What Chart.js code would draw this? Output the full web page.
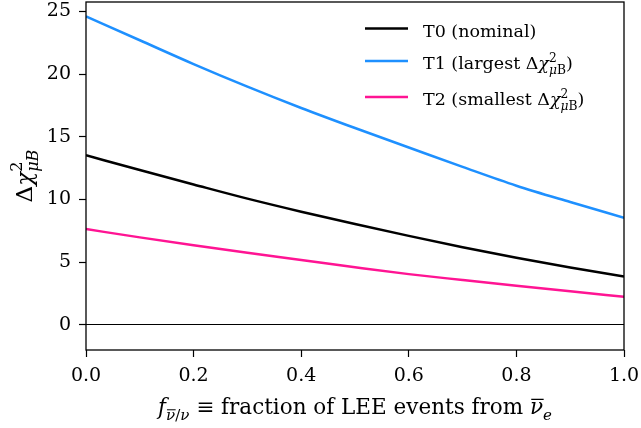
<!DOCTYPE html>
<html>
<head>
<meta charset="utf-8">
<script src="https://cdn.jsdelivr.net/npm/chart.js@4.4.1/dist/chart.umd.min.js"></script>
<style>
  html, body { margin: 0; padding: 0; background: #fff; }
  canvas { display: block; }
</style>
</head>
<body>
<canvas id="chi2Chart" width="641" height="428"></canvas>
<script>
// fraction of LEE events coming from anti-nu_e
const fValues = [0, 0.1, 0.2, 0.3, 0.4, 0.5, 0.6, 0.7, 0.8, 0.9, 1.0];

// delta chi^2 for each template
const t0Values = [13.53, 12.35, 11.20, 10.07, 9.03, 8.05, 7.10, 6.20, 5.35, 4.58, 3.85];
const t1Values = [24.60, 22.70, 20.80, 19.00, 17.30, 15.70, 14.15, 12.60, 11.10, 9.80, 8.55];
const t2Values = [7.64, 6.98, 6.35, 5.75, 5.18, 4.60, 4.05, 3.58, 3.12, 2.68, 2.25];

const seriesNames = ['T0 (nominal)', 'T1 (largest \u0394\u03c7\u00b2_\u03bcB)', 'T2 (smallest \u0394\u03c7\u00b2_\u03bcB)'];
const xTicks = [0, 0.2, 0.4, 0.6, 0.8, 1.0];
const yTicks = [0, 5, 10, 15, 20, 25];

const FONT = '"DejaVu Serif", "Liberation Serif", serif';

// little math-text renderer: parts are {t, i (italic), bar} or {sup, sub}
function richText(ctx, parts, x, y, size, draw) {
    let cx = x;
    for (const p of parts) {
        if (p.sup || p.sub) {
            const s = size * 0.7;
            const w1 = p.sup ? richText(ctx, p.sup, cx, y - size * 0.42, s, draw) : 0;
            const w2 = p.sub ? richText(ctx, p.sub, cx, y + size * 0.28, s, draw) : 0;
            cx += Math.max(w1, w2);
        } else {
            ctx.font = (p.i ? 'italic ' : '') + size + 'px ' + FONT;
            const w = ctx.measureText(p.t).width;
            if (draw) {
                ctx.fillText(p.t, cx, y);
                if (p.bar) {
                    ctx.save();
                    ctx.lineWidth = Math.max(1, size * 0.06);
                    ctx.beginPath();
                    ctx.moveTo(cx + w * 0.1, y - size * 0.68);
                    ctx.lineTo(cx + w * 1.05, y - size * 0.68);
                    ctx.stroke();
                    ctx.restore();
                }
            }
            cx += w;
        }
    }
    return cx - x;
}

const dchi = (bItalic) => [
    { t: '\u0394' }, { t: '\u03c7', i: 1 },
    { sup: [{ t: '2' }], sub: [{ t: '\u03bc', i: 1 }, { t: 'B', i: bItalic }] }
];

const legendParts = [
    [{ t: 'T0 (nominal)' }],
    [{ t: 'T1 (largest ' }, ...dchi(0), { t: ')' }],
    [{ t: 'T2 (smallest ' }, ...dchi(0), { t: ')' }]
];

const xTitleParts = [
    { t: 'f', i: 1 },
    { sub: [{ t: '\u03bd', i: 1, bar: 1 }, { t: '/' }, { t: '\u03bd', i: 1 }] },
    { t: ' \u2261 fraction of LEE events from ' },
    { t: '\u03bd', i: 1, bar: 1 },
    { sub: [{ t: 'e', i: 1 }] }
];

const yTitleParts = dchi(1);

// frame, axis titles and legend
const decorations = {
    id: 'decorations',
    afterDraw(chart) {
        const ctx = chart.ctx;
        const a = chart.chartArea;
        ctx.save();
        ctx.strokeStyle = '#000';
        ctx.fillStyle = '#000';
        ctx.lineWidth = 1.3;
        ctx.strokeRect(a.left, a.top, a.right - a.left, a.bottom - a.top);

        ctx.textBaseline = 'alphabetic';
        ctx.textAlign = 'left';

        // x title
        const xw = richText(ctx, xTitleParts, 0, 0, 21.5, false);
        richText(ctx, xTitleParts, (a.left + a.right) / 2 - xw / 2, 414, 21.5, true);

        // y title
        const yw = richText(ctx, yTitleParts, 0, 0, 23, false);
        ctx.save();
        ctx.translate(32, (a.top + a.bottom) / 2);
        ctx.rotate(-Math.PI / 2);
        richText(ctx, yTitleParts, -yw / 2, 0, 23, true);
        ctx.restore();

        // legend
        const rows = [26.5, 59, 95];
        chart.data.datasets.forEach((ds, i) => {
            const y = a.top + rows[i];
            ctx.strokeStyle = ds.borderColor;
            ctx.lineWidth = ds.borderWidth;
            ctx.beginPath();
            ctx.moveTo(a.right - 259, y);
            ctx.lineTo(a.right - 216, y);
            ctx.stroke();
            ctx.strokeStyle = '#000';
            richText(ctx, legendParts[i], a.right - 201, y + 8.4, 17.5, true);
        });
        ctx.restore();
    }
};

const toPoints = (ys) => fValues.map((f, i) => ({ x: f, y: ys[i] }));

new Chart(document.getElementById('chi2Chart').getContext('2d'), {
    type: 'line',
    data: {
        datasets: [
            { label: seriesNames[0], data: toPoints(t0Values), borderColor: '#000000' },
            { label: seriesNames[1], data: toPoints(t1Values), borderColor: '#1e90ff' },
            { label: seriesNames[2], data: toPoints(t2Values), borderColor: '#ff1493' }
        ].map(ds => Object.assign(ds, {
            borderWidth: 2.5,
            pointRadius: 0,
            fill: false,
            cubicInterpolationMode: 'monotone'
        }))
    },
    options: {
        responsive: false,
        animation: false,
        layout: { padding: { top: 2, right: 17, left: 0, bottom: 0 } },
        plugins: {
            legend: { display: false },
            tooltip: { enabled: false }
        },
        scales: {
            x: {
                type: 'linear',
                min: 0,
                max: 1,
                afterBuildTicks: (scale) => { scale.ticks = xTicks.map(v => ({ value: v })); },
                afterFit: (scale) => { scale.height = 78; scale.paddingLeft = 0; scale.paddingRight = 0; },
                border: { display: false },
                grid: { drawOnChartArea: false, tickLength: 7, tickWidth: 1.2, tickColor: '#000' },
                ticks: {
                    color: '#000',
                    padding: 8,
                    maxRotation: 0,
                    font: { family: FONT, size: 19 },
                    callback: (v) => v.toFixed(1)
                }
            },
            y: {
                min: -2,
                max: 25.75,
                afterBuildTicks: (scale) => { scale.ticks = yTicks.map(v => ({ value: v })); },
                afterFit: (scale) => { scale.width = 86; scale.paddingTop = 0; scale.paddingBottom = 0; },
                border: { display: false },
                grid: {
                    color: (c) => (c.tick && c.tick.value === 0 ? '#000' : 'rgba(0,0,0,0)'),
                    lineWidth: 1,
                    tickLength: 7,
                    tickWidth: 1.2,
                    tickColor: '#000'
                },
                ticks: {
                    color: '#000',
                    padding: 8,
                    font: { family: FONT, size: 19 },
                    callback: (v) => String(v)
                }
            }
        }
    },
    plugins: [decorations]
});
</script>
</body>
</html>
